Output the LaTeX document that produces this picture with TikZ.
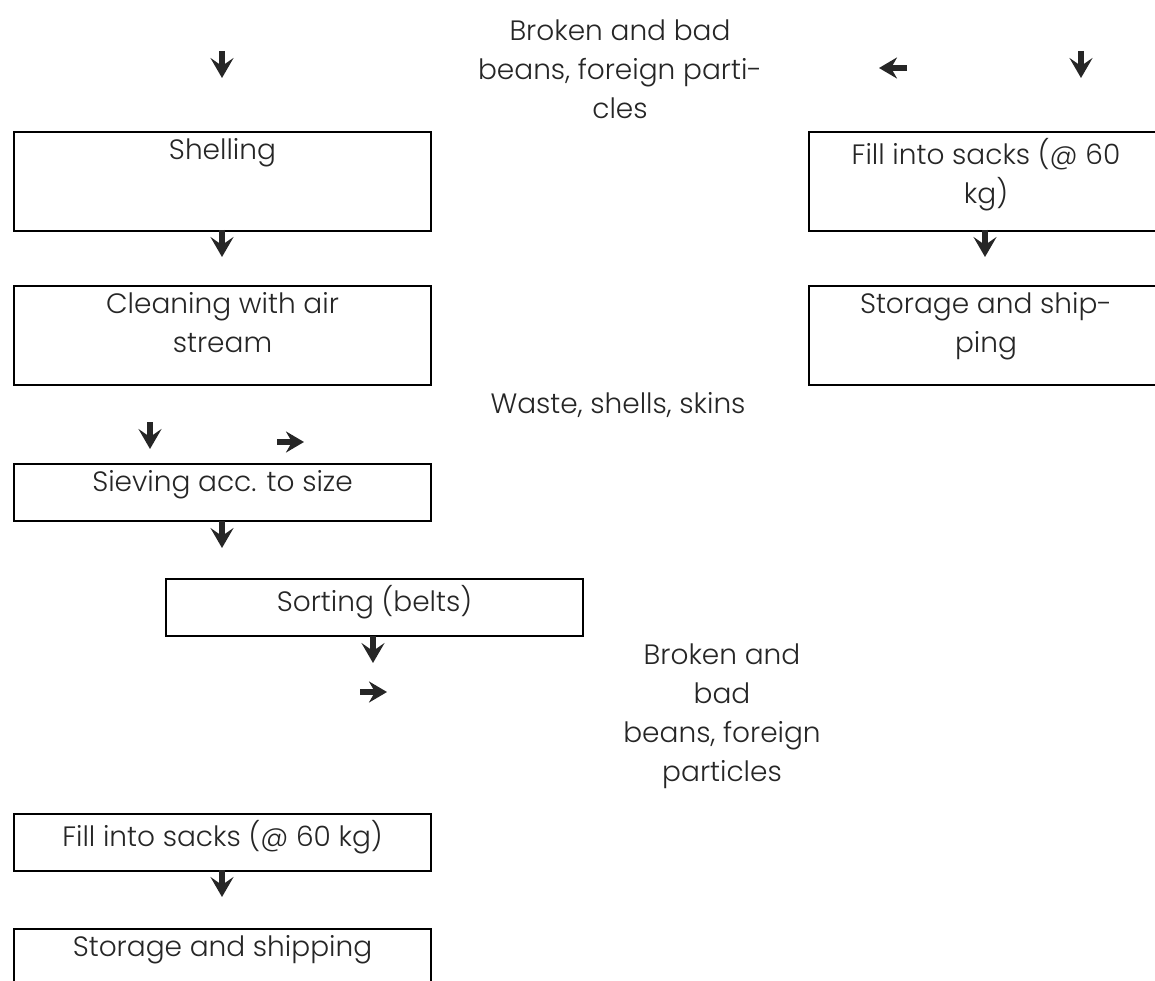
\documentclass[tikz,border=0pt]{standalone}
\usepackage{fontspec}
\setmainfont{Poppins}[UprightFont=* Light]
\usetikzlibrary{arrows.meta, positioning}
\newcommand\boxfont{\fontsize{28}{39}\selectfont}

\begin{document}
\begin{tikzpicture}[x=1pt, y=-1pt,
    box/.style={draw, line width=2pt, rectangle, anchor=north west, minimum width=417pt, minimum height=57pt, inner sep=0pt},
    tall/.style={minimum height=99pt},
    txt/.style={align=center, font=\boxfont, inner sep=0pt, text=black!85},
    inbox/.style={txt, anchor=north, yshift=-7pt},
    glyph/.style={line width=6pt, black!85, -{Stealth[width=23pt, length=20pt, inset=8pt]}},
    sideglyph/.style={glyph, -{Stealth[width=21pt, length=18pt, inset=6pt]}}]
    \useasboundingbox (0,0) rectangle (1155,981);
    \clip (0,0) rectangle (1155,981);

    % Left column
    \node (shell) [box, tall] at (13,131) {};
    \node (clean) [box, tall] at (13,285) {};
    \node (sieve) [box] at (13,463) {};
    \node (sort) [box] at (165,578) {};
    \node (fillL) [box] at (13,813) {};
    \node (storeL) [box, minimum height=90pt] at (13,928) {};

    % Right column
    \node (fillR) [box, tall, minimum width=354pt] at (808,131) {};
    \node (storeR) [box, tall, minimum width=354pt] at (808,285) {};

    % Box texts
    \node [inbox] at (shell.north) {Shelling};
    \node [inbox] at (clean.north) {Cleaning with air\\stream};
    \node [inbox] at (sieve.north) {Sieving acc. to size};
    \node [inbox] at (sort.north) {Sorting (belts)};
    \node [inbox] at (fillL.north) {Fill into sacks (@ 60 kg)};
    \node [inbox] at (storeL.north) {Storage and shipping};
    \node [inbox] at (fillR.north) {Fill into sacks (@ 60\\kg)};
    \node [inbox] at (storeR.north) {Storage and ship-\\ping};

    % Side streams
    \node (broken1) [txt, anchor=north] at (620,20) {Broken and bad\\beans, foreign parti-\\cles};
    \node (waste) [txt, anchor=north] at (618,392) {Waste, shells, skins};
    \node (broken2) [txt, anchor=north] at (722,644) {Broken and\\bad\\beans, foreign\\particles};

    % Arrow glyphs
    \coordinate (a1) at (222,51);
    \coordinate (a2) at (222,230);
    \coordinate (a3) at (150,422);
    \coordinate (a4) at (222,521);
    \coordinate (a5) at (373,636);
    \coordinate (a6) at (222,870);
    \coordinate (a7) at (1081,51);
    \coordinate (a8) at (985,230);
    \draw[glyph] (a1) -- ++(0,27);
    \draw[glyph] (a2) -- ++(0,27);
    \draw[glyph] (a3) -- ++(0,27);
    \draw[glyph] (a4) -- ++(0,27);
    \draw[glyph] (a5) -- ++(0,27);
    \draw[glyph] (a6) -- ++(0,27);
    \draw[glyph] (a7) -- ++(0,27);
    \draw[glyph] (a8) -- ++(0,27);
    \coordinate (r1) at (277,442);
    \coordinate (r2) at (360,692);
    \coordinate (l1) at (907,68);
    \draw[sideglyph] (r1) -- ++(27,0);
    \draw[sideglyph] (r2) -- ++(27,0);
    \draw[sideglyph] (l1) -- ++(-28,0);
\end{tikzpicture}
\end{document}
